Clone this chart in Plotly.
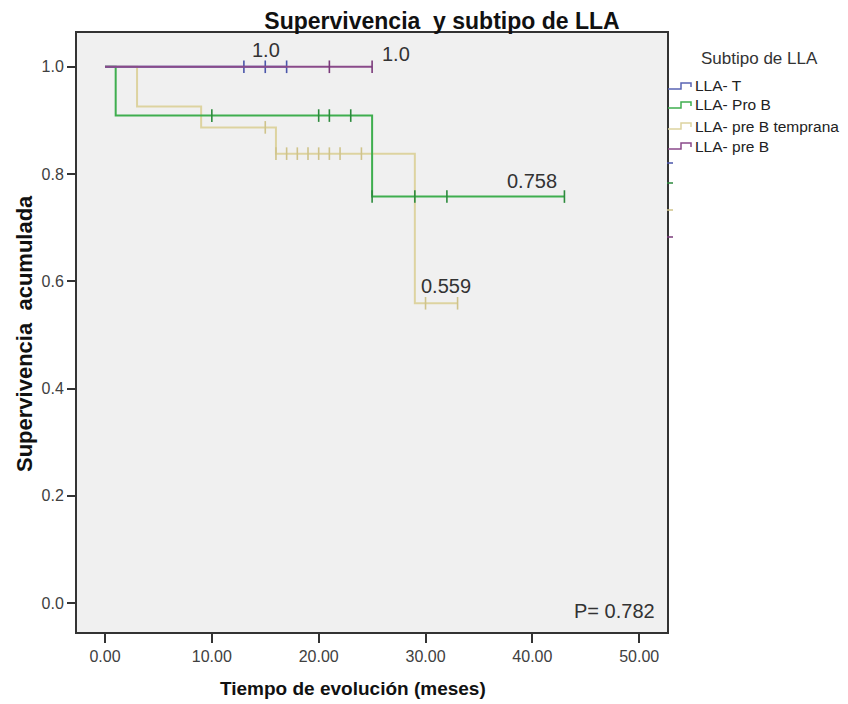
import plotly.graph_objects as go

# Kaplan-Meier estimates per ALL subtype: step times, survival after each step, censored times
groups = ["LLA- T", "LLA- Pro B", "LLA- pre B temprana", "LLA- pre B"]
colors = ["#5a64b4", "#3fae4f", "#ddd3a0", "#8a4a8a"]
censor_colors = ["#4a55aa", "#2c8a3c", "#cfc38a", "#7a3a7a"]

step_times = {
    "LLA- T": [0, 17],
    "LLA- Pro B": [0, 1, 25, 43],
    "LLA- pre B temprana": [0, 3, 9, 16, 29, 33],
    "LLA- pre B": [0, 25],
}
step_surv = {
    "LLA- T": [1.0, 1.0],
    "LLA- Pro B": [1.0, 0.909, 0.758, 0.758],
    "LLA- pre B temprana": [1.0, 0.926, 0.887, 0.838, 0.559, 0.559],
    "LLA- pre B": [1.0, 1.0],
}
censored = {
    "LLA- T": [13, 15, 17],
    "LLA- Pro B": [10, 20, 21, 23, 25, 29, 32, 43],
    "LLA- pre B temprana": [15, 16, 17, 18, 19, 20, 21, 22, 24, 30, 33],
    "LLA- pre B": [21, 25],
}

# Value labels placed on the chart
label_text = ["1.0", "1.0", "0.758", "0.559"]
label_x = [15.1, 27.2, 40.0, 31.9]
label_y = [1.032, 1.024, 0.787, 0.591]

x_ticks = [0, 10, 20, 30, 40, 50]
y_ticks = [0.0, 0.2, 0.4, 0.6, 0.8, 1.0]


def surv_at(name, t):
    s = step_surv[name][0]
    for tt, ss in zip(step_times[name], step_surv[name]):
        if tt <= t:
            s = ss
    return s


FONT = "Liberation Sans, Arial, sans-serif"
L, R, T, B = 77, 181, 33, 72
W, H = 848, 704
pw, ph = W - L - R, H - T - B


def px_x(v):
    return (v - L) / pw


def px_y(v):
    return (H - B - v) / ph


fig = go.Figure()

# draw order: beige and green underneath, purple on top of the 1.0 line
draw_order = ["LLA- pre B temprana", "LLA- Pro B", "LLA- T", "LLA- pre B"]
for name in draw_order:
    i = groups.index(name)
    fig.add_trace(go.Scatter(
        x=step_times[name], y=step_surv[name], mode="lines",
        line=dict(color=colors[i], width=2, shape="hv"),
        name=name, hoverinfo="skip", showlegend=False,
    ))
    cx = censored[name]
    fig.add_trace(go.Scatter(
        x=cx, y=[surv_at(name, t) for t in cx], mode="markers",
        marker=dict(symbol="line-ns", size=9,
                    line=dict(color=censor_colors[i], width=1.6)),
        showlegend=False, hoverinfo="skip",
    ))

annotations = []
for txt, lx, ly in zip(label_text, label_x, label_y):
    annotations.append(dict(x=lx, y=ly, xref="x", yref="y", text=txt,
                            showarrow=False, font=dict(size=20, color="#333333", family=FONT)))
annotations.append(dict(x=47.7, y=-0.015, xref="x", yref="y", text="P= 0.782",
                        showarrow=False, font=dict(size=20, color="#333333", family=FONT)))

# axis titles
annotations.append(dict(x=px_x(353), y=px_y(688), xref="paper", yref="paper",
                        xanchor="center", yanchor="middle",
                        text="<b>Tiempo de evolución (meses)</b>", showarrow=False,
                        font=dict(size=19, color="#111111", family=FONT)))
annotations.append(dict(x=px_x(24), y=px_y(334), xref="paper", yref="paper",
                        xanchor="center", yanchor="middle",
                        text="<b>Supervivencia  acumulada</b>", showarrow=False, textangle=-90,
                        font=dict(size=22, color="#111111", family=FONT)))

# legend: title, step-shaped keys and labels
annotations.append(dict(x=px_x(759), y=px_y(58), xref="paper", yref="paper",
                        xanchor="center", yanchor="middle", text="Subtipo de LLA",
                        showarrow=False, font=dict(size=17, color="#333333", family=FONT)))
shapes = []
legend_rows = [86, 105, 126, 146]
for k, name in enumerate(groups):
    yy = legend_rows[k]
    annotations.append(dict(x=px_x(693), y=px_y(yy), xref="paper", yref="paper",
                            xanchor="left", yanchor="middle", text=name, showarrow=False,
                            font=dict(size=15.5, color="#222222", family=FONT)))
    pts = [(668, yy + 3), (681, yy + 3), (681, yy - 3), (691, yy - 3), (691, yy + 1)]
    path = "M " + " L ".join(f"{px_x(a):.5f},{px_y(b):.5f}" for a, b in pts)
    shapes.append(dict(type="path", xref="paper", yref="paper", path=path,
                       line=dict(color=colors[k], width=1.5)))

# small censor-symbol keys beside the plot border
for k, yy in enumerate([163, 183, 210, 237]):
    shapes.append(dict(type="line", xref="paper", yref="paper",
                       x0=1.0, x1=px_x(673), y0=px_y(yy), y1=px_y(yy),
                       line=dict(color=censor_colors[k], width=1.5)))

fig.update_layout(
    width=W, height=H,
    margin=dict(l=L, r=R, t=T, b=B, autoexpand=False),
    paper_bgcolor="white",
    plot_bgcolor="#f0f0f0",
    font=dict(family=FONT, color="#333333"),
    title=dict(text="<b>Supervivencia  y subtipo de LLA</b>", x=442 / W, xanchor="center",
               y=1 - 21 / H, yanchor="middle", font=dict(size=23, color="#111111", family=FONT)),
    showlegend=False,
    annotations=annotations,
    shapes=shapes,
    xaxis=dict(range=[-2.62, 52.6], tickvals=x_ticks, tickformat=".2f",
               showgrid=False, zeroline=False, showline=True, mirror=True,
               linecolor="#333333", linewidth=2, ticks="outside", ticklen=9,
               tickcolor="#333333", tickwidth=1.5,
               tickfont=dict(size=16, color="#404040", family=FONT)),
    yaxis=dict(range=[-0.054, 1.063], tickvals=y_ticks, tickformat=".1f",
               showgrid=False, zeroline=False, showline=True, mirror=True,
               linecolor="#333333", linewidth=2, ticks="outside", ticklen=8,
               tickcolor="#333333", tickwidth=1.5,
               tickfont=dict(size=16, color="#404040", family=FONT)),
)

fig.write_html("out.html")
